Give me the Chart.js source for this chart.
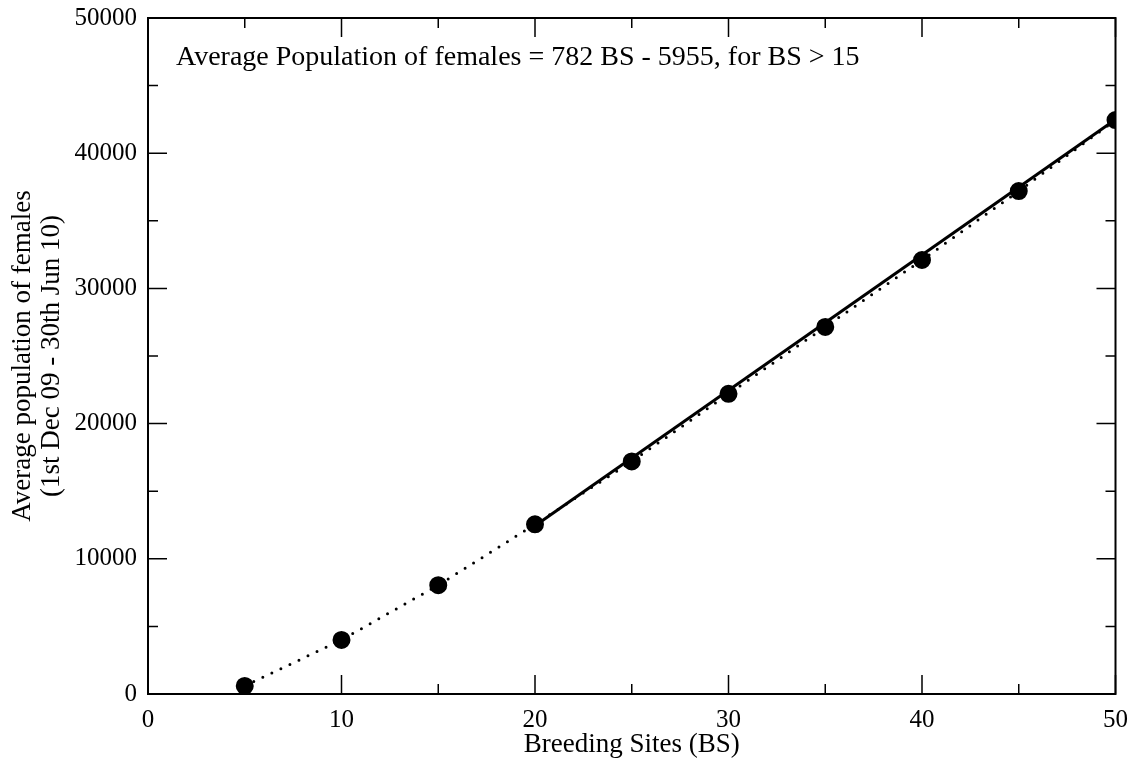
<!DOCTYPE html>
<html>
<head>
<meta charset="utf-8">
<script src="https://cdn.jsdelivr.net/npm/chart.js@4/dist/chart.umd.min.js"></script>
<style>
  html, body { margin: 0; padding: 0; background: #fff; }
  #wrap { width: 1131px; height: 762px; }
</style>
</head>
<body>
<div id="wrap"><canvas id="popChart"></canvas></div>
<script>
// breeding sites and simulated average female population
var breedingSites = [5, 10, 15, 20, 25, 30, 35, 40, 45, 50];
var avgFemales = [600, 4000, 8050, 12550, 17200, 22200, 27150, 32100, 37200, 42450];
// linear fit for BS > 15
var fitSites = [20, 50];
var fitFemales = [12450, 42500];
var xTickValues = [0, 10, 20, 30, 40, 50];
var yTickValues = [0, 10000, 20000, 30000, 40000, 50000];
var fitLabel = 'Average Population of females = 782 BS - 5955, for BS > 15';

var serif = 'Liberation Serif, Times New Roman, DejaVu Serif, serif';

function toPoints(xs, ys) {
  return xs.map(function (x, i) { return { x: x, y: ys[i] }; });
}

// box with inward ticks on all four sides, plus the fit annotation
var framePlugin = {
  id: 'frameTicks',
  afterDraw: function (chart) {
    var c = chart.ctx, a = chart.chartArea;
    var xs = chart.scales.x, ys = chart.scales.y;
    c.save();
    c.strokeStyle = '#000';
    c.lineWidth = 1.5;
    var v, p, len;
    for (v = 0; v <= 50; v += 5) {
      p = xs.getPixelForValue(v);
      len = (v % 10 === 0) ? 19 : 10;
      c.beginPath();
      c.moveTo(p, a.bottom); c.lineTo(p, a.bottom - len);
      c.moveTo(p, a.top); c.lineTo(p, a.top + len);
      c.stroke();
    }
    for (v = 0; v <= 50000; v += 5000) {
      p = ys.getPixelForValue(v);
      len = (v % 10000 === 0) ? 19 : 10;
      c.beginPath();
      c.moveTo(a.left, p); c.lineTo(a.left + len, p);
      c.moveTo(a.right, p); c.lineTo(a.right - len, p);
      c.stroke();
    }
    c.lineWidth = 2;
    c.strokeRect(a.left, a.top, a.right - a.left, a.bottom - a.top);

    c.fillStyle = '#000';
    c.font = '28px ' + serif;
    c.textAlign = 'left';
    c.textBaseline = 'alphabetic';
    c.fillText(fitLabel, a.left + 28, a.top + 47);
    c.restore();
  }
};

var ctx = document.getElementById('popChart');
var popChart = new Chart(ctx, {
  type: 'scatter',
  data: {
    datasets: [
      {
        label: 'fit',
        data: toPoints(fitSites, fitFemales),
        showLine: true,
        borderColor: '#000',
        borderWidth: 3,
        pointRadius: 0,
        fill: false
      },
      {
        label: 'simulated',
        data: toPoints(breedingSites, avgFemales),
        showLine: true,
        borderColor: '#000',
        borderWidth: 3,
        borderDash: [0, 10],
        borderCapStyle: 'round',
        backgroundColor: '#000',
        pointBackgroundColor: '#000',
        pointBorderColor: '#000',
        pointRadius: 7.5,
        tension: 0,
        fill: false
      }
    ]
  },
  options: {
    responsive: true,
    maintainAspectRatio: false,
    animation: false,
    layout: { padding: { top: 16, right: 11, left: 0, bottom: 0 } },
    plugins: {
      legend: { display: false },
      tooltip: { enabled: false }
    },
    scales: {
      x: {
        type: 'linear',
        min: 0,
        max: 50,
        afterBuildTicks: function (s) { s.ticks = xTickValues.map(function (v) { return { value: v }; }); },
        afterFit: function (s) { s.height = 68; },
        grid: { display: false },
        border: { display: false },
        ticks: {
          color: '#000',
          padding: 3,
          font: { family: serif, size: 25 },
          callback: function (v) { return String(v); }
        },
        title: {
          display: true,
          text: 'Breeding Sites (BS)',
          color: '#000',
          font: { family: serif, size: 27, lineHeight: 1.2 },
          padding: { top: 0, bottom: 1 }
        }
      },
      y: {
        type: 'linear',
        min: 0,
        max: 50000,
        afterBuildTicks: function (s) { s.ticks = yTickValues.map(function (v) { return { value: v }; }); },
        afterFit: function (s) { s.width = 148; },
        grid: { display: false },
        border: { display: false },
        ticks: {
          color: '#000',
          padding: 3,
          font: { family: serif, size: 25 },
          callback: function (v) { return String(v); }
        },
        title: {
          display: true,
          text: ['Average population of females', '(1st Dec 09 - 30th Jun 10)'],
          color: '#000',
          font: { family: serif, size: 27, lineHeight: 1.05 },
          padding: { top: 9, bottom: 0 }
        }
      }
    }
  },
  plugins: [framePlugin]
});
</script>
</body>
</html>
